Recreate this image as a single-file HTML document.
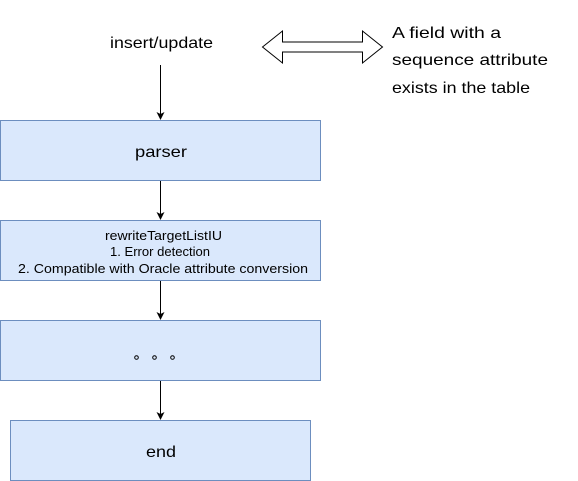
<!DOCTYPE html>
<html><head><style>
html,body{margin:0;padding:0;background:#fff;}
svg{display:block;font-family:"Liberation Sans",Arial,sans-serif;}
</style></head><body>
<svg width="578" height="481" viewBox="0 0 578 481" xmlns="http://www.w3.org/2000/svg">
<defs><marker id="a" markerWidth="8" markerHeight="8" refX="7" refY="4" orient="auto" markerUnits="userSpaceOnUse"><path d="M0,0 L8,4 L0,8 L2,4 Z" fill="#000"/></marker></defs>
<g fill="#dae8fc" stroke="#6c8ebf" stroke-width="1">
<rect x="0.5" y="120.5" width="320" height="60"/>
<rect x="0.5" y="220.5" width="320" height="60"/>
<rect x="0.5" y="320.5" width="320" height="60"/>
<rect x="10.5" y="420.5" width="300" height="60"/>
</g>
<g stroke="#000" stroke-width="1" marker-end="url(#a)">
<line x1="160.5" y1="65" x2="160.5" y2="119"/>
<line x1="160.5" y1="181" x2="160.5" y2="219"/>
<line x1="160.5" y1="281" x2="160.5" y2="319"/>
<line x1="160.5" y1="381" x2="160.5" y2="419"/>
</g>
<path d="M262.5,53 L282.5,37 L282.5,48 L362.5,48 L362.5,37 L382.5,53 L362.5,69 L362.5,58 L282.5,58 L282.5,69 Z" fill="#fff" stroke="#000" stroke-width="1" transform="translate(0,-6)"/>
<g fill="#000" font-size="16" lengthAdjust="spacingAndGlyphs">
<text x="110" y="48" textLength="103" lengthAdjust="spacingAndGlyphs">insert/update</text>
<text x="392" y="38" textLength="109" lengthAdjust="spacingAndGlyphs">A field with a</text>
<text x="392" y="65" textLength="156" lengthAdjust="spacingAndGlyphs">sequence attribute</text>
<text x="392" y="93" textLength="138" lengthAdjust="spacingAndGlyphs">exists in the table</text>
<text x="135" y="157" textLength="52" lengthAdjust="spacingAndGlyphs">parser</text>
<text x="146" y="457" textLength="30" lengthAdjust="spacingAndGlyphs">end</text>
</g>
<g fill="#000" font-size="13">
<text x="105" y="240" textLength="117" lengthAdjust="spacingAndGlyphs">rewriteTargetListIU</text>
<text x="110" y="256" textLength="100" lengthAdjust="spacingAndGlyphs">1. Error detection</text>
<text x="18" y="273" textLength="290" lengthAdjust="spacingAndGlyphs">2. Compatible with Oracle attribute conversion</text>
</g>
<g fill="none" stroke="#000" stroke-width="1">
<circle cx="136.5" cy="357.5" r="1.8"/>
<circle cx="154.5" cy="357.5" r="1.8"/>
<circle cx="172.5" cy="357.5" r="1.8"/>
</g>
</svg>
</body></html>
